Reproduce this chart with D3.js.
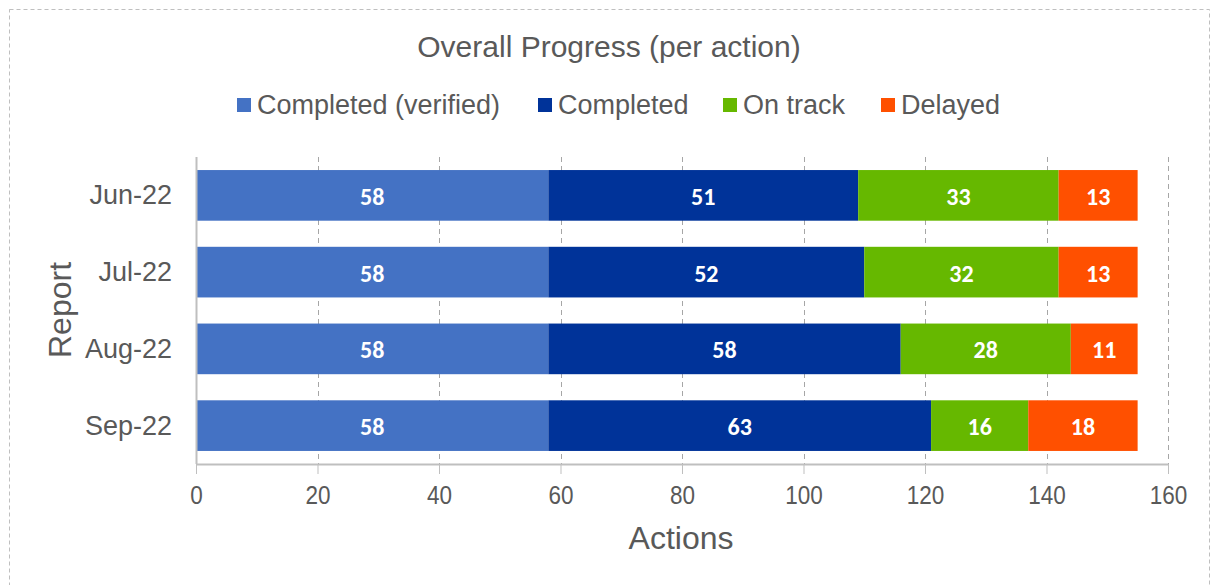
<!DOCTYPE html>
<html><head><meta charset="utf-8">
<script src="https://cdn.jsdelivr.net/npm/d3@7"></script>
<style>body{margin:0;background:#fff}svg{display:block}</style>
</head><body>
<svg id="chart" width="1211" height="585"></svg>
<script>
const categories = ["Jun-22", "Jul-22", "Aug-22", "Sep-22"];
const seriesNames = ["Completed (verified)", "Completed", "On track", "Delayed"];
const completedVerified = [58, 58, 58, 58];
const completed = [51, 52, 58, 63];
const onTrack = [33, 32, 28, 16];
const delayed = [13, 13, 11, 18];
const xTicks = [0, 20, 40, 60, 80, 100, 120, 140, 160];
const colors = ["#4472C4", "#003399", "#66B800", "#FF5000"];

(function(){
const svg = d3.select("#chart");
const textColor = "#595959";
const font = "'Liberation Sans', Arial, sans-serif";

svg.append("rect").attr("x", 9.5).attr("y", 9.5).attr("width", 1200).attr("height", 590)
  .attr("fill", "none").attr("stroke", "#bfbfbf").attr("stroke-dasharray", "4,3");

const pL = 196, pR = 1168, pT = 157, pB = 464;
const x = d3.scaleLinear().domain([0, 160]).range([pL, pR]);
const y = d3.scaleBand().domain(categories).range([pT, pB]).paddingInner(0.34).paddingOuter(0.17);

svg.append("g").selectAll("line").data(xTicks.slice(1)).join("line")
  .attr("x1", d => Math.round(x(d)) + 0.5).attr("x2", d => Math.round(x(d)) + 0.5)
  .attr("y1", pT).attr("y2", pB)
  .attr("stroke", "#a6a6a6").attr("stroke-dasharray", "5,4");

const rows = categories.map((c, i) => ({cat: c, vals: [completedVerified[i], completed[i], onTrack[i], delayed[i]]}));
const segs = [];
rows.forEach(r => {
  let acc = 0;
  r.vals.forEach((v, k) => { segs.push({cat: r.cat, k, x0: acc, x1: acc + v, v}); acc += v; });
});

svg.append("g").selectAll("rect").data(segs).join("rect")
  .attr("x", d => x(d.x0)).attr("width", d => x(d.x1) - x(d.x0))
  .attr("y", d => y(d.cat)).attr("height", y.bandwidth())
  .attr("fill", d => colors[d.k]);

svg.append("g").selectAll("text").data(segs).join("text")
  .attr("x", d => (x(d.x0) + x(d.x1)) / 2).attr("y", d => y(d.cat) + y.bandwidth() / 2 + 1)
  .attr("text-anchor", "middle").attr("dominant-baseline", "central")
  .attr("fill", "#fff").attr("font-weight", "bold").attr("font-size", 24)
  .attr("font-family", "Carlito, 'Open Sans', sans-serif")
  .text(d => d.v);

const xAxis = svg.append("g").attr("transform", `translate(0,${pB})`)
  .call(d3.axisBottom(x).tickValues(xTicks).tickSize(10).tickSizeOuter(0).tickPadding(12));
xAxis.select(".domain").attr("stroke", "#bfbfbf").attr("stroke-width", 2);
xAxis.selectAll(".tick line").attr("stroke", "#bfbfbf");
xAxis.selectAll(".tick text").attr("font-size", 25).attr("fill", textColor).attr("font-family", font)
  .attr("transform", "scale(0.9,1)");

svg.append("line").attr("x1", pL + 0.5).attr("x2", pL + 0.5).attr("y1", pT).attr("y2", pB)
  .attr("stroke", "#bfbfbf").attr("stroke-width", 2);

svg.append("g").selectAll("text").data(categories).join("text")
  .attr("x", 172).attr("y", d => y(d) + y.bandwidth() / 2)
  .attr("text-anchor", "end").attr("dominant-baseline", "central")
  .attr("font-size", 27).attr("fill", textColor).attr("font-family", font)
  .text(d => d);

svg.append("text").attr("x", 681).attr("y", 538).attr("text-anchor", "middle").attr("dominant-baseline", "central")
  .attr("font-size", 32).attr("fill", textColor).attr("font-family", font).text("Actions");
svg.append("text").attr("transform", "translate(60,310) rotate(-90)").attr("text-anchor", "middle")
  .attr("dominant-baseline", "central")
  .attr("font-size", 32).attr("fill", textColor).attr("font-family", font).text("Report");

svg.append("text").attr("x", 609).attr("y", 46).attr("text-anchor", "middle").attr("dominant-baseline", "central")
  .attr("font-size", 30).attr("fill", textColor).attr("font-family", font).text("Overall Progress (per action)");

const legendX = [237, 538, 723, 881];
const lg = svg.append("g").selectAll("g").data(seriesNames).join("g")
  .attr("transform", (d, i) => `translate(${legendX[i]},105)`);
lg.append("rect").attr("x", 0).attr("y", -7).attr("width", 14).attr("height", 14).attr("fill", (d, i) => colors[i]);
lg.append("text").attr("x", 20).attr("y", 0).attr("dominant-baseline", "central")
  .attr("font-size", 27).attr("fill", textColor).attr("font-family", font).text(d => d);
})();
</script>
</body></html>
